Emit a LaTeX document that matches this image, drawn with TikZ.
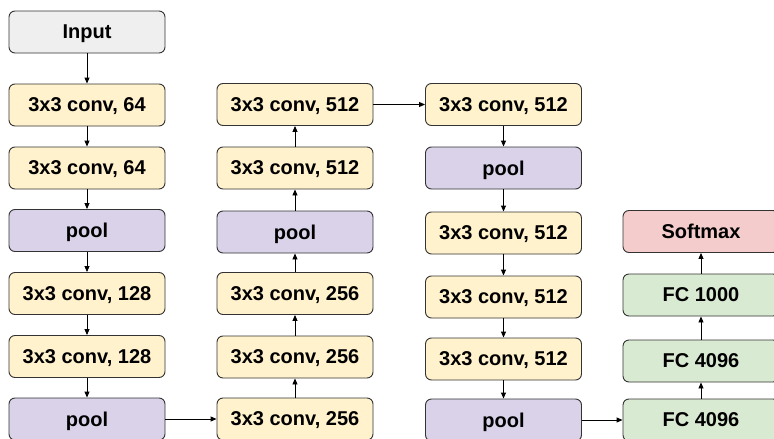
\documentclass[tikz,border=0pt]{standalone}
\usepackage{fontspec}
\setmainfont{Liberation Sans}
\usetikzlibrary{arrows.meta}
\definecolor{edgegray}{HTML}{333333}
\definecolor{inputfill}{HTML}{EFEFEF}
\definecolor{convfill}{HTML}{FFF2CC}
\definecolor{poolfill}{HTML}{D9D2E9}
\definecolor{fcfill}{HTML}{D9EAD3}
\definecolor{softfill}{HTML}{F4CCCC}
\tikzset{
  layer/.style={draw=edgegray, line width=0.9pt, rounded corners=6pt,
    minimum width=156pt, minimum height=42pt, inner sep=0pt,
    text depth=0pt,
    font=\fontsize{20}{23}\selectfont\bfseries, text=black},
  inbox/.style={layer, fill=inputfill},
  convbox/.style={layer, fill=convfill},
  poolbox/.style={layer, fill=poolfill},
  fcbox/.style={layer, fill=fcfill},
  softbox/.style={layer, fill=softfill},
  flow/.style={line width=0.9pt, black, -{Triangle[length=6pt,width=5pt]}}
}
\begin{document}
\begin{tikzpicture}[x=1pt,y=-1pt]
\useasboundingbox (0,0) rectangle (774,439);
\clip (0,0) rectangle (774,439);
\fill[white] (0,0) rectangle (774,439);

% first column (downwards)
\node[inbox]   (in)  at (87,32)    {Input};
\node[convbox] (c1a) at (87,105)   {3x3 conv, 64};
\node[convbox] (c1b) at (87,168)   {3x3 conv, 64};
\node[poolbox] (p1)  at (87,230.5) {pool};
\node[convbox] (c2a) at (87,293.5) {3x3 conv, 128};
\node[convbox] (c2b) at (87,356.5) {3x3 conv, 128};
\node[poolbox] (p2)  at (87,419)   {pool};

% second column (upwards)
\node[convbox] (c3a) at (295,419)   {3x3 conv, 256};
\node[convbox] (c3b) at (295,357)   {3x3 conv, 256};
\node[convbox] (c3c) at (295,293.5) {3x3 conv, 256};
\node[poolbox] (p3)  at (295,232)   {pool};
\node[convbox] (c4a) at (295,168)   {3x3 conv, 512};
\node[convbox] (c4b) at (295,104.5) {3x3 conv, 512};

% third column (downwards)
\node[convbox] (c4c) at (503.5,104.5) {3x3 conv, 512};
\node[poolbox] (p4)  at (503.5,168)   {pool};
\node[convbox] (c5a) at (503.5,233)   {3x3 conv, 512};
\node[convbox] (c5b) at (503.5,297)   {3x3 conv, 512};
\node[convbox] (c5c) at (503.5,359)   {3x3 conv, 512};
\node[poolbox] (p5)  at (503.5,420)   {pool};

% fourth column (upwards)
\node[fcbox]   (f1)  at (701,420)   {FC 4096};
\node[fcbox]   (f2)  at (701,361)   {FC 4096};
\node[fcbox]   (f3)  at (701,295)   {FC 1000};
\node[softbox] (sm)  at (701,231.5) {Softmax};

% connectors
\draw[flow] (in) -- (c1a);
\draw[flow] (c1a) -- (c1b);
\draw[flow] (c1b) -- (p1);
\draw[flow] (p1) -- (c2a);
\draw[flow] (c2a) -- (c2b);
\draw[flow] (c2b) -- (p2);
\draw[flow] (p2) -- (c3a);
\draw[flow] (c3a) -- (c3b);
\draw[flow] (c3b) -- (c3c);
\draw[flow] (c3c) -- (p3);
\draw[flow] (p3) -- (c4a);
\draw[flow] (c4a) -- (c4b);
\draw[flow] (c4b) -- (c4c);
\draw[flow] (c4c) -- (p4);
\draw[flow] (p4) -- (c5a);
\draw[flow] (c5a) -- (c5b);
\draw[flow] (c5b) -- (c5c);
\draw[flow] (c5c) -- (p5);
\draw[flow] (p5) -- (f1);
\draw[flow] (f1) -- (f2);
\draw[flow] (f2) -- (f3);
\draw[flow] (f3) -- (sm);
\end{tikzpicture}
\end{document}
